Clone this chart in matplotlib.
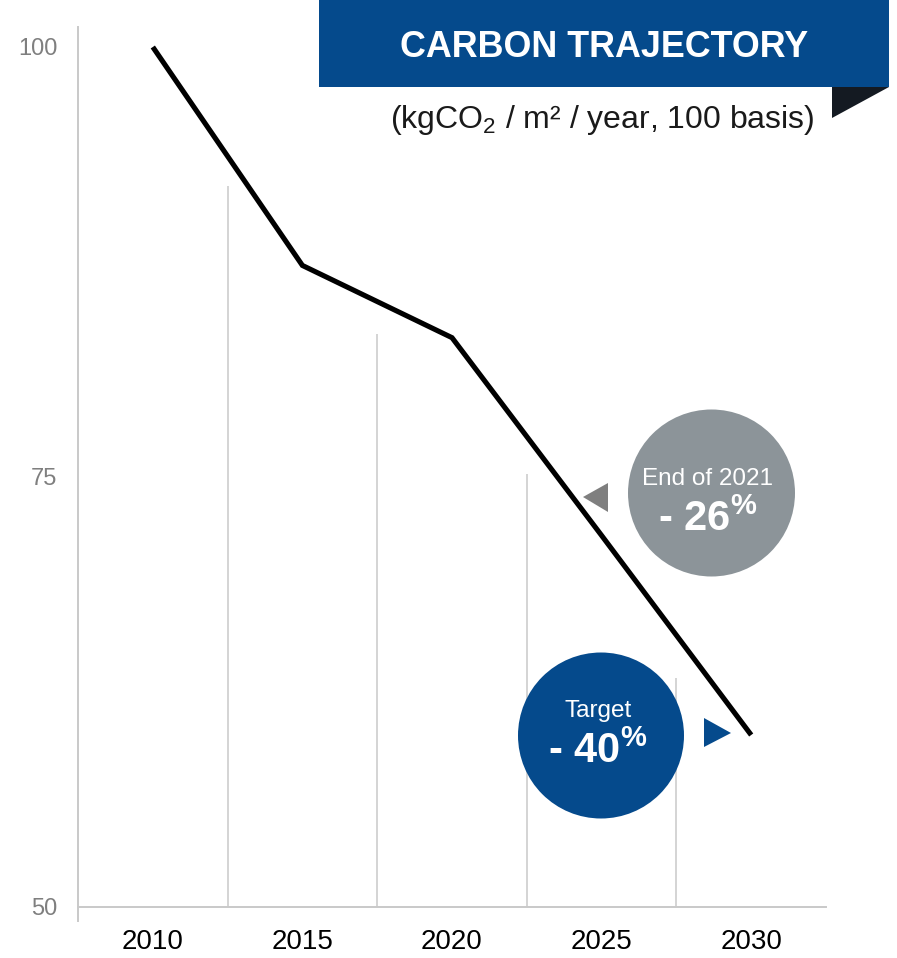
import matplotlib
matplotlib.use("Agg")
import matplotlib.pyplot as plt
from matplotlib.patches import Rectangle, Circle, Polygon

plt.rcParams['font.family'] = ['Liberation Sans', 'DejaVu Sans']
plt.rcParams['mathtext.fontset'] = 'custom'
plt.rcParams['mathtext.rm'] = 'Liberation Sans'
plt.rcParams['mathtext.bf'] = 'Liberation Sans:bold'

# --- data -------------------------------------------------------------
years = ["2010", "2015", "2020", "2025", "2030"]
carbon_index = [100, 87.3, 83.1, 71.6, 60.0]      # kgCO2 / m2 / year, 2010 = 100
divider_heights = [91.9, 83.3, 75.2, 63.3]         # separators between years
y_ticks = [50, 75, 100]
end_2021_cut = 26                                  # % reduction reached end of 2021
target_cut = round(carbon_index[0] - carbon_index[-1])

BLUE = "#054a8c"
BUBBLE_GREY = "#8c9499"
ARROW_GREY = "#7f7f7f"
AXIS_GREY = "#c9c9c9"

W, H = 897, 958
fig = plt.figure(figsize=(W / 100, H / 100), dpi=100)

# --- main chart --------------------------------------------------------
ax = fig.add_axes([78 / W, (H - 907) / H, (826 - 78) / W, (907 - 27) / H])
xs = list(range(len(years)))
ax.vlines([i + 0.5 for i in range(len(divider_heights))], y_ticks[0],
          divider_heights, color=AXIS_GREY, lw=1.1, zorder=1)
ax.plot(xs, carbon_index, color="black", lw=3.7,
        solid_capstyle="butt", solid_joinstyle="miter", zorder=3)

ax.set_xlim(-0.5, len(years) - 0.5)
ax.set_ylim(50, 50 + 880 / 17.2)
ax.set_xticks(xs)
ax.set_xticklabels(years)
ax.set_yticks(y_ticks)
ax.tick_params(axis="x", length=0, pad=16, labelsize=20, labelcolor="black")
ax.tick_params(axis="y", length=0, pad=15, labelsize=17, labelcolor="#7f7f7f")
for s in ["top", "right", "left"]:
    ax.spines[s].set_visible(False)
ax.spines["bottom"].set_color(AXIS_GREY)
ax.spines["bottom"].set_linewidth(1.4)
ax.axvline(-0.5, ymin=-14 / 880, ymax=1, color=AXIS_GREY, lw=1.4, clip_on=False)

# --- banner and callouts (pixel space overlay) ---------------------------
ov = fig.add_axes([0, 0, 1, 1], zorder=5)
ov.set_xlim(0, W)
ov.set_ylim(H, 0)
ov.axis("off")

ov.add_patch(Rectangle((319, 0), 570, 87, color=BLUE, lw=0))
ov.add_patch(Polygon([(832, 87), (889, 87), (832, 118)], closed=True,
                     color="#141a22", lw=0))
ov.text(604, 57, "CARBON TRAJECTORY", color="white", fontsize=25.8,
        fontweight="bold", ha="center", va="baseline")
ov.text(815, 128, r"(kgCO$_\mathregular{2}$ / m² / year, 100 basis)",
        color="#1a1a1a", fontsize=23, ha="right", va="baseline")

# end of 2021 bubble
ov.add_patch(Circle((711.5, 493), 83.5, color=BUBBLE_GREY, lw=0))
ov.add_patch(Polygon([(583, 497), (608, 483), (608, 512)], closed=True,
                     color=ARROW_GREY, lw=0))
ov.text(708, 485, "End of 2021", color="white", fontsize=17.5,
        ha="center", va="baseline")
ov.text(708, 531, r"- %d$^{\mathbf{\%%}}$" % end_2021_cut, color="white",
        fontsize=30, fontweight="bold", ha="center", va="baseline")

# target bubble
ov.add_patch(Circle((601, 735.5), 83, color=BLUE, lw=0))
ov.add_patch(Polygon([(731, 733), (704, 718), (704, 747)], closed=True,
                     color=BLUE, lw=0))
ov.text(598, 717, "Target", color="white", fontsize=17.5,
        ha="center", va="baseline")
ov.text(598, 763, r"- %d$^{\mathbf{\%%}}$" % target_cut, color="white",
        fontsize=30, fontweight="bold", ha="center", va="baseline")

fig.savefig("out.png", dpi=100)
